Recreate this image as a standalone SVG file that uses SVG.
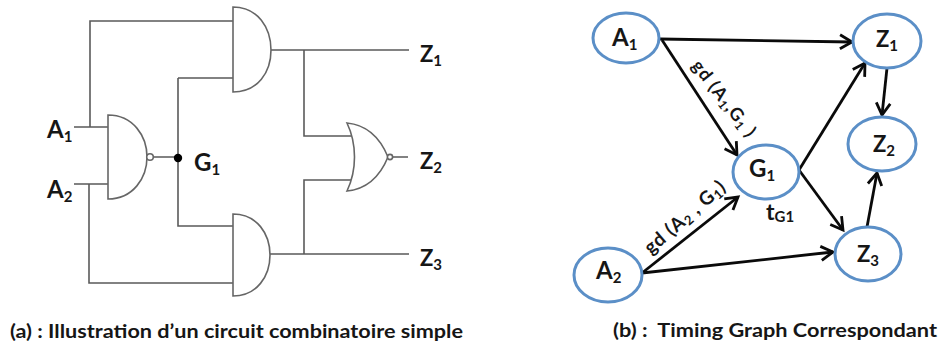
<svg xmlns="http://www.w3.org/2000/svg" width="940" height="350" viewBox="0 0 940 350">
<style>
text{font-family:Lato,"Liberation Sans",sans-serif;font-weight:700;fill:#161616}
.w{fill:none;stroke:#5a5a5a;stroke-width:1.6}
.g{fill:#fff;stroke:#666;stroke-width:1.6}
.n{fill:#fff;stroke:#5b8fc7;stroke-width:3}
.e{fill:none;stroke:#0a0a0a;stroke-width:2.800;marker-end:url(#a)}
.a{font-size:24px}.z{font-size:22px}.s{font-size:15px}.c{font-size:19px}
</style>
<defs><marker id="a" markerUnits="userSpaceOnUse" markerWidth="20" markerHeight="20" refX="15" refY="10" orient="auto"><path d="M3 3L15 10L3 17" fill="none" stroke="#0a0a0a" stroke-width="2.800"/></marker></defs>
<rect width="940" height="350" fill="#fff"/>
<g id="wires">
<path class="w" d="M74 127H108M90 127V21H233M74 184H108M89 184V283H233M153 157H178M178 78H233M178 78V226H233M271 50H409M270 254H409M304 50V136H351M304 254V180H351M393 157H408"/>
</g>
<g id="gate-and-top"><path class="g" d="M233 7C258 7 271 28 271 50C271 72 258 92 233 92Z"/></g>
<g id="gate-nand"><path class="g" d="M108 115C133 115 147 136 147 157C147 178 133 199 108 199Z"/><circle class="g" cx="150" cy="157" r="3.300"/></g>
<g id="gate-and-bottom"><path class="g" d="M233 214C257 214 270 234 270 255C270 276 257 296 233 296Z"/></g>
<g id="gate-nor"><path class="g" d="M347 123C368 125 381 140 388 157C381 174 368 189 347 191C357 170 357 144 347 123Z"/><circle class="g" cx="390" cy="157" r="2.600"/></g>
<g id="junction"><circle cx="178" cy="158" r="4.200" fill="#000"/></g>
<g id="circuit-labels">
<text class="a" x="47" y="138">A<tspan class="s" dy="4">1</tspan></text>
<text class="a" x="47" y="198">A<tspan class="s" dy="4">2</tspan></text>
<text class="a" x="194" y="171">G<tspan class="s" dy="4">1</tspan></text>
<text class="z" x="420" y="62">Z<tspan class="s" dy="4">1</tspan></text>
<text class="z" x="420" y="169">Z<tspan class="s" dy="4">2</tspan></text>
<text class="z" x="420" y="266">Z<tspan class="s" dy="4">3</tspan></text>
</g>
<g id="connectors">
<path class="e" d="M660 39L852 42"/>
<path class="e" d="M662 40L737 155"/>
<path class="e" d="M642 273L738 197"/>
<path class="e" d="M642 273L833 252"/>
<path class="e" d="M799 170L865 63"/>
<path class="e" d="M799 170L843 230"/>
<path class="e" d="M887 68L882 115"/>
<path class="e" d="M867 227L877 173"/>
</g>
<g id="A1"><ellipse class="n" cx="626" cy="38" rx="33" ry="25"/><text class="a" x="612" y="46">A<tspan class="s" dy="4">1</tspan></text></g>
<g id="A2"><ellipse class="n" cx="608" cy="275" rx="34" ry="27"/><text class="a" x="596" y="279">A<tspan class="s" dy="4">2</tspan></text></g>
<g id="G1"><ellipse class="n" cx="766" cy="172" rx="33" ry="27"/><text class="a" x="749" y="177">G<tspan class="s" dy="4">1</tspan></text></g>
<g id="Z1"><ellipse class="n" cx="887" cy="41" rx="34" ry="27"/><text class="z" x="876" y="47">Z<tspan class="s" dy="4">1</tspan></text></g>
<g id="Z2"><ellipse class="n" cx="882" cy="144" rx="34" ry="27"/><text class="z" x="873" y="152">Z<tspan class="s" dy="4">2</tspan></text></g>
<g id="Z3"><ellipse class="n" cx="868" cy="254" rx="33" ry="27"/><text class="z" x="857" y="262">Z<tspan class="s" dy="4">3</tspan></text></g>
<g id="edge-labels">
<text font-size="18" letter-spacing="1" transform="translate(691 66) rotate(52)">gd (A<tspan font-size="12" dy="3">1</tspan><tspan dy="-3">,G</tspan><tspan font-size="12" dy="3">1</tspan><tspan dy="-3"> )</tspan></text>
<text font-size="19" letter-spacing="0.8" transform="translate(651 255) rotate(-41)">gd (A<tspan font-size="13" dy="3">2</tspan><tspan dy="-3"> , G</tspan><tspan font-size="13" dy="3">1</tspan><tspan dy="-3">)</tspan></text>
<text font-size="23" x="766" y="220">t<tspan font-size="15" dy="2">G1</tspan></text>
</g>
<g id="captions">
<text class="c" x="10" y="338" textLength="453" lengthAdjust="spacingAndGlyphs">(a) : Illustration d’un circuit combinatoire simple</text>
<text class="c" x="613" y="337" textLength="324" lengthAdjust="spacingAndGlyphs" xml:space="preserve">(b) :  Timing Graph Correspondant</text>
</g>
</svg>
